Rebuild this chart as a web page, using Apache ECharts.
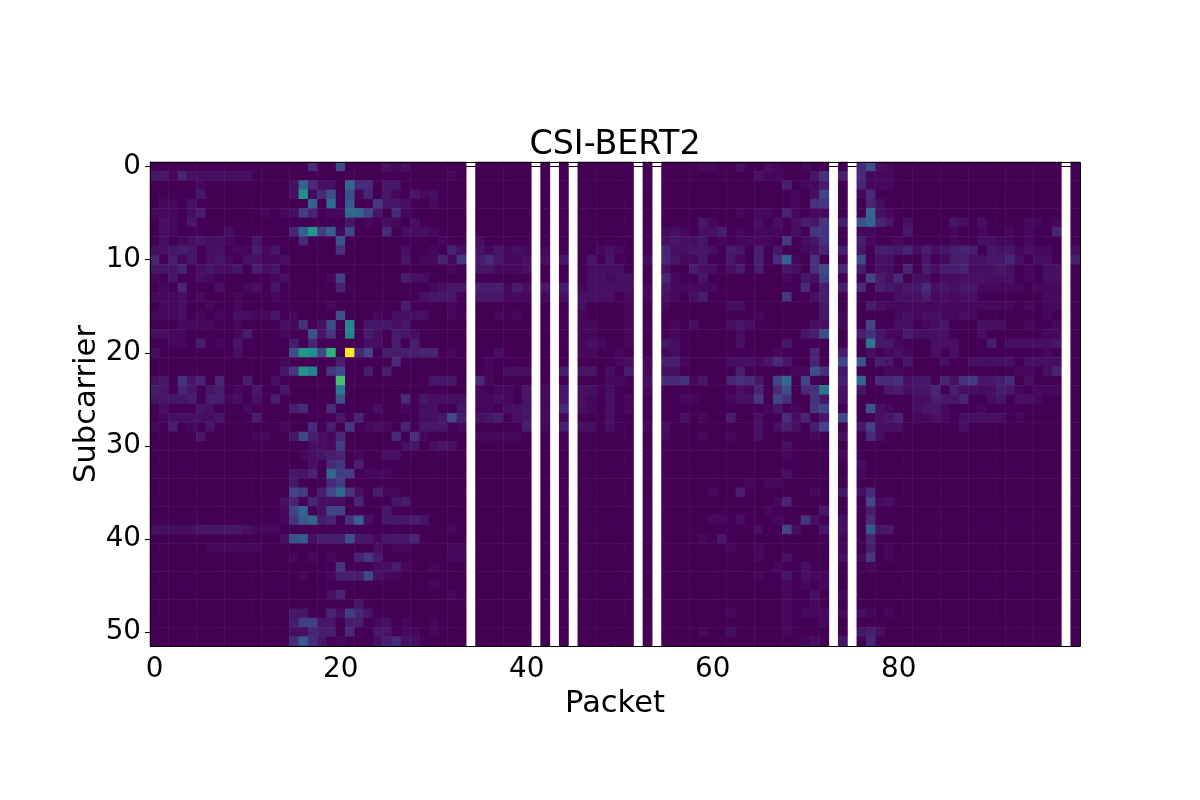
<!DOCTYPE html>
<html><head><meta charset="utf-8">
<style>html,body{margin:0;padding:0;background:#fff}#c{width:1200px;height:800px}</style>
<script src="https://cdn.jsdelivr.net/npm/echarts@6/dist/echarts.min.js"></script>
</head><body><div id="c"></div>
<script>
const packetCount = 100;
const subcarrierCount = 52;
const missingPackets = [34,41,43,45,52,54,73,75,98];
const maxLevel = 50;
const viridis = ['#440154','#482475','#414487','#355f8d','#2a788e','#21918c','#22a884','#44bf70','#7ad151','#bddf26','#fde725'];
// non-zero magnitudes per subcarrier row, packet:level
const subcarrierLevels = [
{17:6,20:11,25:2,26:1,27:2,59:1,60:1,63:2,66:2,67:1,70:1,76:6,77:12,78:2,79:1},
{0:3,1:3,2:1,3:5,4:2,5:2,6:2,7:2,8:2,9:2,10:2,32:1,65:2,66:1,67:1,71:3,72:7,74:4,76:6,77:1,78:1,79:1},
{5:1,15:2,16:16,17:6,18:2,19:2,21:17,22:6,23:6,25:3,26:3,68:4,70:1,71:1,72:4,76:5,77:1,78:1,79:1},
{5:3,15:2,16:25,17:1,18:6,19:12,21:12,22:1,23:5,25:3,26:1,28:3,29:1,30:2,69:1,71:2,72:10,76:1,77:6},
{1:1,2:1,4:2,17:16,19:18,21:14,24:8,25:3,26:3,27:2,30:1,69:1,71:7,72:8,77:5,78:2},
{0:1,1:1,2:1,4:2,5:4,12:1,14:1,15:2,16:9,17:5,19:1,20:1,21:17,22:16,23:10,24:3,26:6,27:1,63:1,65:1,66:1,68:5,69:1,71:1,72:1,77:17,78:2,79:1},
{1:2,2:1,4:3,21:3,23:1,25:2,26:1,28:2,59:3,60:1,65:2,67:2,69:2,70:4,71:3,72:8,74:4,76:13,77:16,78:5,79:3,81:2,86:3,87:2,89:2,94:1,95:1,97:1},
{1:2,2:1,8:2,15:5,16:16,17:27,18:9,19:15,20:1,21:11,25:6,27:2,28:2,29:2,30:1,55:1,56:2,57:1,59:2,60:2,61:4,63:1,65:1,66:1,67:1,69:2,71:8,72:8,76:1,77:1,81:3,86:1,89:1,92:1,94:1,97:5},
{1:2,3:1,4:2,5:3,6:2,7:2,8:1,11:3,16:6,20:13,31:1,35:2,55:2,56:3,57:2,58:2,59:3,61:1,63:1,64:1,65:1,66:1,68:8,70:2,71:3,72:7,76:4,77:1,80:1,86:1,89:2,90:2,91:1,92:1,94:1},
{0:2,1:2,2:3,3:4,4:3,6:2,7:2,9:1,10:1,11:4,12:1,13:3,20:7,27:2,30:1,32:5,33:2,35:3,36:1,37:3,38:1,39:2,40:1,42:1,48:1,49:2,50:1,55:5,56:2,57:2,58:3,59:3,60:2,62:4,63:3,65:4,67:3,70:1,71:2,72:5,74:4,76:3,78:4,79:4,80:3,81:5,82:2,83:4,84:2,85:3,86:4,87:5,88:4,90:3,91:2,92:3,93:1,94:2,95:1,96:1,99:2},
{0:5,2:4,3:1,4:3,6:2,7:3,8:1,10:2,11:2,12:1,13:1,14:2,27:3,29:1,30:1,31:5,32:1,33:8,35:4,36:6,37:3,38:1,39:1,40:2,42:2,44:3,47:3,49:3,53:2,55:5,56:3,57:1,58:1,59:3,62:3,63:1,65:4,67:6,68:15,69:1,71:7,76:11,78:2,79:2,83:3,85:1,86:4,87:4,88:2,89:2,90:3,91:3,92:5,93:2,95:2,96:2,99:4},
{0:3,1:3,2:3,3:5,5:2,6:3,7:2,8:2,9:3,11:4,12:2,13:3,32:1,35:3,36:3,37:1,38:1,39:1,40:2,47:2,48:2,49:2,50:2,55:2,58:4,59:2,60:2,62:2,63:4,65:4,68:3,69:2,71:7,72:11,74:5,76:4,78:2,79:2,81:5,83:4,84:2,85:4,86:4,87:5,88:2,89:2,90:2,91:3,92:2,94:1,96:2,97:2},
{0:1,2:3,5:2,6:1,13:1,14:2,19:1,20:10,27:4,28:2,29:2,47:2,48:2,49:1,50:2,51:2,55:5,56:1,59:3,68:1,70:3,71:2,72:9,77:10,78:4,79:2,80:6,82:2,83:2,85:2,86:2,87:2,88:2,89:2,90:2,91:2,92:2,94:1,96:2,97:2},
{1:1,3:5,7:2,10:1,11:2,13:3,20:5,30:1,31:2,32:3,33:3,35:4,36:4,37:4,38:1,39:4,40:2,42:3,44:4,46:1,47:2,48:2,49:2,50:2,51:2,53:1,55:3,56:1,57:1,58:1,59:1,60:1,70:6,72:4,74:4,76:6,78:4,79:3,80:2,81:3,82:3,83:6,84:2,85:3,86:2,87:3,88:3,89:1,90:1,91:1,92:1,93:1,95:1,96:1,97:1},
{0:1,1:1,2:1,3:2,5:1,9:1,13:1,29:2,30:3,31:3,32:3,35:3,36:3,37:3,38:1,39:1,40:1,42:1,44:2,46:2,47:2,48:2,49:2,51:1,53:1,55:2,56:1,58:2,59:4,68:8,71:2,72:4,80:2,81:2,82:2,83:4,84:1,85:2,86:1,87:2,88:2,96:1,97:1},
{1:1,2:1,3:2,6:1,9:1,19:1,27:4,32:1,46:2,51:1,55:1,62:2,63:2,72:3,77:4,78:2,79:1,80:1,81:1,82:1,83:1,84:1,85:1,86:1,87:1,88:1,89:1,90:1,91:1,92:1,94:1,96:1,97:1},
{0:1,1:1,2:1,3:2,5:1,7:1,9:2,10:2,11:1,12:1,13:3,15:1,20:12,24:1,26:2,27:2,28:2,29:2,32:1,37:1,39:1,46:1,51:1,65:1,72:3,74:1,80:1,81:2,82:1,83:2,84:2,85:1,86:1,87:2,88:1,96:1},
{3:1,4:1,5:1,6:1,9:1,14:2,15:1,16:7,18:2,19:12,21:23,23:3,24:3,25:3,26:2,27:3,46:1,47:1,51:1,56:1,58:2,62:2,63:3,64:2,71:2,72:2,74:1,77:10,80:2,81:2,83:1,84:2,85:3,89:2,90:2,91:2,94:1,97:1},
{0:2,1:2,2:1,3:1,9:1,10:4,14:1,17:13,18:3,19:8,21:23,23:4,24:2,26:4,27:3,28:2,46:1,47:1,51:1,56:1,63:2,70:3,71:4,72:12,76:4,77:7,78:3,79:1,80:1,81:4,82:2,83:2,84:2,85:2,89:2,96:1,97:1},
{2:1,3:1,5:4,7:1,9:3,15:4,17:5,23:2,24:2,26:4,28:4,46:1,47:2,48:1,51:1,55:3,56:2,63:2,68:3,77:20,78:3,79:3,80:1,84:2,85:2,86:2,90:4,92:2,93:2,94:2,95:2,96:2,97:3},
{0:2,9:2,15:12,16:26,17:25,18:11,19:32,21:50,22:5,23:10,25:4,26:4,27:4,28:4,29:5,30:5,32:1,37:2,46:1,47:1,50:1,55:1,56:2,67:1,71:5,74:4,77:2,79:1,80:2,81:1,84:2,86:2,96:1},
{14:1,20:4,26:6,36:1,50:1,51:2,53:1,55:4,56:4,57:1,62:2,63:2,64:2,65:1,66:3,67:6,68:3,71:5,74:10,76:13,78:4,79:3,81:3,85:2,88:2,89:2,90:2,91:2,92:2,94:2,95:2,96:2,97:2},
{14:3,15:8,16:26,17:22,19:8,20:11,23:4,25:4,36:1,38:2,39:2,40:2,44:4,46:3,47:3,49:2,51:4,53:1,55:2,56:2,63:4,69:1,70:1,71:12,72:7,74:3,79:1,80:1,93:1,94:1,96:2,97:5},
{0:2,1:3,3:7,4:3,5:5,7:5,10:4,13:2,20:35,30:3,31:3,32:3,35:6,36:1,49:1,50:1,53:2,55:6,56:6,57:7,58:1,59:3,62:5,63:7,64:6,65:3,67:10,68:17,70:10,74:4,76:16,78:6,79:6,80:7,81:2,82:3,83:3,85:5,86:2,87:7,88:9,89:3,90:3,91:4,92:6,94:2},
{0:4,1:3,3:5,4:3,6:3,7:4,9:1,11:3,14:3,20:20,35:1,37:1,38:1,40:3,42:1,44:3,46:2,47:2,49:2,53:1,63:2,64:1,65:5,67:6,68:12,70:6,71:7,72:20,74:2,76:3,79:3,80:4,81:2,82:3,83:3,84:5,86:4,87:2,88:2,89:2,90:2,91:4,92:3,93:1,95:1,96:1,97:1},
{0:3,1:3,2:3,3:3,4:4,6:4,7:4,8:1,9:2,11:2,13:4,20:13,27:6,29:3,30:2,31:2,32:2,33:2,35:1,36:1,37:2,38:1,40:3,42:1,44:3,46:2,47:1,49:2,51:1,57:1,58:1,62:1,63:2,64:2,65:8,67:10,68:7,71:7,72:3,74:2,82:2,83:2,84:4,85:3,86:3,87:5,90:2,91:3,93:2,94:2,95:1},
{1:2,5:3,6:2,10:1,15:4,16:6,19:6,24:2,27:1,29:2,30:2,33:3,35:1,36:1,38:2,39:2,40:3,42:1,44:6,46:2,47:1,49:2,51:1,66:1,67:3,69:1,71:8,72:10,77:13,78:2,79:1,82:2,83:3,84:3,85:1,89:1},
{1:1,2:2,3:2,4:2,5:2,6:2,7:3,11:4,20:3,22:5,29:2,30:2,31:3,32:11,33:4,35:2,36:3,37:4,39:2,40:3,42:1,44:1,49:2,57:2,59:1,62:4,65:2,68:6,69:2,70:5,72:3,74:11,78:2,79:3,80:5,82:1,83:1,84:2,85:1,87:2,88:2,89:2,90:2,91:2,93:1},
{0:1,2:4,4:1,6:3,14:1,17:6,19:4,21:8,23:1,24:2,25:1,27:5,29:3,30:3,31:3,33:1,40:4,42:1,44:4,46:2,47:2,49:2,53:1,55:2,65:2,67:2,68:4,69:2,71:4,72:10,76:3,77:10,78:2,79:2,80:2,87:2},
{5:3,11:1,12:1,15:3,16:11,17:4,18:2,19:1,20:6,26:6,28:7,29:1,35:1,36:1,37:1,38:1,39:1,55:1,59:1,62:1,65:2,71:1,74:2,77:6,78:2},
{17:2,18:2,19:1,20:9,27:2,28:3,30:2,31:3,32:2,68:2},
{16:1,17:2,18:3,19:4,20:5,22:1,25:2,26:2,68:1,74:1},
{17:2,19:6,20:8,22:4,76:2},
{15:3,16:3,17:5,19:17,20:9,21:9,23:1,24:1,25:1,68:2,76:1},
{15:3,19:6,20:9,64:1,66:1,67:1},
{15:10,16:9,18:4,19:11,20:17,21:7,22:2,24:4,25:1,26:1,60:1,63:4,71:1,74:3,76:2,77:6},
{14:2,15:5,17:5,18:2,19:2,20:2,22:5,26:3,27:4,67:1,68:5,77:10,78:1,79:2},
{14:1,15:10,16:16,18:2,19:10,20:10,25:3,66:1,72:3,77:4},
{14:1,15:8,16:14,17:16,18:4,19:5,21:7,22:15,23:2,25:3,26:3,27:3,28:4,29:3,60:1,61:1,63:2,67:1,70:8,71:2,74:2,77:6},
{0:2,1:2,2:2,3:2,4:2,5:3,6:3,7:3,8:3,9:3,10:2,11:1,12:1,13:1,32:1,65:2,68:10,69:2,72:3,74:2,77:14,78:3,79:3},
{14:2,15:13,16:14,17:2,18:4,19:4,20:4,21:12,22:3,23:3,24:1,25:3,26:3,27:3,28:5,59:1,61:3,74:1,77:5},
{6:1,7:1,8:1,9:1,10:1,11:1,24:2,26:1,27:1,32:1,33:1,62:1,65:1,74:1,77:4,79:1},
{15:1,17:1,19:1,22:5,23:8,24:4,32:1,33:1,65:1,68:2,74:2,76:1,77:8,79:1},
{20:8,24:2,25:2,26:4,27:1,30:1,67:1,70:2,77:1},
{16:1,19:1,20:4,21:4,22:4,23:11,24:2,25:1,26:1,65:1,68:3,70:2,71:1,72:1},
{30:1,68:1,70:1,72:1},
{19:2,20:5,32:1,68:1,71:2,74:1},
{22:3,68:1,71:1},
{15:3,16:3,19:5,20:2,21:9,22:5,23:3,62:1,68:1,70:1,71:1,72:1,74:1,76:2,77:1,79:1},
{15:4,16:9,17:9,18:3,19:3,21:4,22:4,24:1,25:2,27:1,30:1,68:1,72:1},
{15:2,16:2,17:5,18:4,19:4,21:6,24:3,25:3,27:1,28:1,30:1,59:1,62:2,68:1,76:3,77:4,78:2},
{15:6,16:14,17:6,18:3,20:1,24:2,25:4,26:6,27:2,28:2,70:1,71:2,74:3,77:5}
];
const xTicks = [0,20,40,60,80];
const yTicks = [0,10,20,30,40,50];
const heat = [];
for (let r = 0; r < subcarrierCount; r++) {
  for (let c = 0; c < packetCount; c++) {
    if (missingPackets.includes(c)) continue;
    heat.push([c, r, subcarrierLevels[r][c] || 0]);
  }
}
const font = 'DejaVu Sans';
const xs = Array.from({length: packetCount}, (_, i) => String(i));
const ys = Array.from({length: subcarrierCount}, (_, i) => String(i));
const chart = echarts.init(document.getElementById('c'), null, {renderer: 'canvas'});
chart.setOption({
  animation: false,
  backgroundColor: '#fff',
  title: {text: 'CSI-BERT2', left: 610, top: 124, textAlign: 'center',
    textStyle: {fontFamily: font, fontSize: 33.3, fontWeight: 'normal', color: '#000'}},
  grid: {left: 150, top: 162, width: 930, height: 484, containLabel: false},
  xAxis: {type: 'category', data: xs, position: 'bottom',
    name: 'Packet', nameLocation: 'middle', nameGap: 43, nameMoveOverlap: false,
    nameTextStyle: {fontFamily: font, fontSize: 30.5, color: '#000'},
    axisLine: {show: true, lineStyle: {color: '#000', width: 1}},
    axisTick: {show: true, alignWithLabel: true, length: 5, interval: i => xTicks.includes(i), lineStyle: {color: '#000', width: 1}},
    axisLabel: {show: true, interval: i => xTicks.includes(i), fontFamily: font, fontSize: 27.8, color: '#000', margin: 10},
    splitLine: {show: false}, splitArea: {show: false}},
  yAxis: [
    {type: 'category', data: ys, inverse: true, axisLine: {show: false}, axisTick: {show: false}, axisLabel: {show: false},
      splitLine: {show: false}, splitArea: {show: false}},
    {type: 'value', min: -0.5, max: subcarrierCount - 0.5, inverse: true, position: 'left',
      name: 'Subcarrier', nameLocation: 'middle', nameGap: 47, nameMoveOverlap: false,
      nameTextStyle: {fontFamily: font, fontSize: 30.5, color: '#000'},
      axisLine: {show: true, lineStyle: {color: '#000', width: 1}},
      axisTick: {show: true, length: 5, customValues: yTicks, lineStyle: {color: '#000', width: 1}},
      axisLabel: {show: true, customValues: yTicks, showMinLabel: true, showMaxLabel: true, verticalAlign: 'middle', padding: [6,0,0,0], fontFamily: font, fontSize: 27.8, color: '#000', margin: 9},
      splitLine: {show: false}, splitArea: {show: false}}
  ],
  visualMap: {show: false, type: 'continuous', min: 0, max: maxLevel, dimension: 2, seriesIndex: 0, inRange: {color: viridis}},
  series: [{type: 'heatmap', xAxisIndex: 0, yAxisIndex: 0, data: heat, progressive: 0, itemStyle: {borderWidth: 0}, emphasis: {disabled: true}}],
  graphic: [{type: 'rect', z: 100, silent: true, shape: {x: 150.5, y: 162.5, width: 930, height: 484},
    style: {fill: 'none', stroke: '#000', lineWidth: 1}}]
});
</script></body></html>
